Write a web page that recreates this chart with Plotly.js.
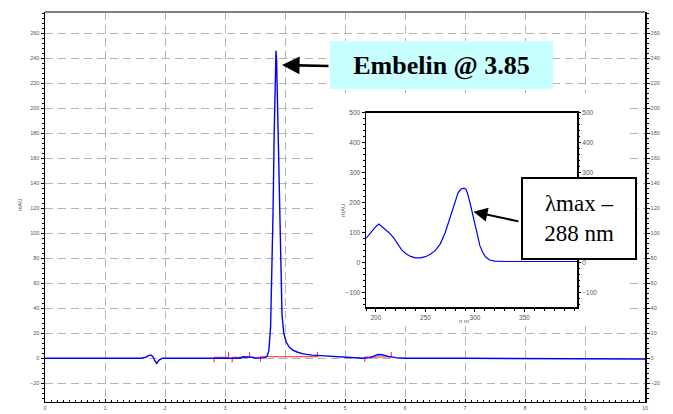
<!DOCTYPE html>
<html><head><meta charset="utf-8">
<script src="https://cdn.plot.ly/plotly-3.0.1.min.js"></script>
<style>html,body{margin:0;padding:0;background:#fff}</style>
</head><body><div id="chart" style="width:673px;height:414px"></div>
<script>
// Chromatogram (retention time in min, signal in mAU)
const retentionTime = [0, 1.0, 1.6, 1.68, 1.73, 1.77, 1.8, 1.83, 1.86, 1.9, 1.96, 2.5, 3.0, 3.25, 3.3, 3.4, 3.45, 3.5, 3.6, 3.66, 3.70, 3.73, 3.76, 3.78, 3.80, 3.82, 3.84, 3.85, 3.86, 3.87, 3.89, 3.91, 3.93, 3.95, 3.98, 4.02, 4.07, 4.13, 4.2, 4.3, 4.45, 4.6, 5.0, 5.3, 5.42, 5.5, 5.55, 5.62, 5.72, 5.85, 6.0, 7.0, 8.0, 9.0, 9.62, 9.66, 10];
const signal = [0, 0, 0, 0.8, 2.2, 2.5, 1.2, -2, -4.2, -1.5, 0, 0, 0, 0, 1.2, 1.2, 0.8, 0.2, 0, 0.3, 1.5, 6, 25, 60, 115, 180, 230, 246, 238, 215, 160, 105, 55, 35, 20, 13, 9, 6.5, 5, 3.5, 2.5, 2, 0.5, 0, 0.5, 2, 3, 2.8, 1.5, 0.5, 0, 0, 0, 0, 0, -0.6, -0.6];
// Integration events
const peakStart = [2.82, 3.12, 3.59, 5.33];
const peakEnd = [3.06, 3.41, 4.54, 5.77];
const baselineLevel = [0.8, 0.8, 1.2, 1.0];
const markLength = 4;
// UV spectrum of the peak (nm, mAU)
const wavelength = [190, 195, 200, 203, 208, 213, 218, 222, 226, 230, 235, 240, 245, 250, 255, 260, 265, 270, 275, 280, 283, 286, 289, 291, 293, 296, 299, 302, 305, 308, 311, 315, 320, 330, 360, 403];
const spectrum = [80, 100, 120, 128, 115, 100, 82, 62, 42, 30, 20, 15, 15, 19, 27, 40, 62, 100, 150, 205, 233, 245, 248, 244, 225, 185, 140, 95, 55, 32, 17, 8, 4, 3, 3, 3];
// inset right-hand tick labels left visible (others sit behind the λmax box)
const insetRightTicks = [-100, 0, 300, 400, 500];
const peakLabel = "Embelin @ 3.85";
const lambdaLabel = "λmax –<br>288 nm";
const yTitle = "mAU";
const xTitleInset = "n m";

// integration marks
const ix = [], iy = [];
peakStart.forEach((s, i) => {
  const e = peakEnd[i], b = baselineLevel[i];
  ix.push(s, s, e, e, null);
  iy.push(b - markLength, b, b, b + markLength, null);
});

const grey = "#555555";
const tickFont = {family: "Liberation Sans", size: 5.5, color: grey};
const insetFont = {family: "Liberation Sans", size: 6.5, color: grey};
const serif = "Times New Roman";

const traces = [
  {x: ix, y: iy, type: "scatter", mode: "lines", line: {color: "#ff2020", width: 1}, xaxis: "x", yaxis: "y", hoverinfo: "skip"},
  {x: retentionTime, y: signal, type: "scatter", mode: "lines", line: {color: "#0000ff", width: 1.4}, xaxis: "x", yaxis: "y"},
  {x: [], y: [], type: "scatter", xaxis: "x", yaxis: "y3"},
  {x: wavelength, y: spectrum, type: "scatter", mode: "lines", line: {color: "#0000ff", width: 1.2}, xaxis: "x2", yaxis: "y2"},
  {x: [], y: [], type: "scatter", xaxis: "x2", yaxis: "y4"}
];

const gridCommon = {showgrid: true, gridcolor: "#b4b4b4", gridwidth: 1, griddash: "8px,5px", zeroline: false};

const layout = {
  width: 673, height: 414,
  margin: {l: 45, r: 28, t: 12, b: 12},
  paper_bgcolor: "#fff", plot_bgcolor: "#fff",
  showlegend: false,
  xaxis: Object.assign({}, gridCommon, {
    range: [0, 10], dtick: 1, tick0: 0, color: grey, showline: true, linecolor: "#000", linewidth: 1.2,
    ticks: "inside", ticklen: 3, tickcolor: "#000", tickfont: tickFont,
    minor: {dtick: 0.1, ticks: "inside", ticklen: 2, tickcolor: "#000", showgrid: false}
  }),
  yaxis: Object.assign({}, gridCommon, {
    range: [-35, 277], dtick: 20, tick0: 0, color: grey, showline: true, linecolor: "#000", linewidth: 1.5,
    ticks: "outside", ticklen: 3, tickcolor: "#000", tickfont: tickFont,
    minor: {dtick: 4, ticks: "outside", ticklen: 2, tickcolor: "#000", showgrid: false}
  }),
  yaxis3: {
    overlaying: "y", side: "right", anchor: "x", range: [-35, 277], dtick: 20, tick0: 0, color: grey,
    showgrid: false, zeroline: false, showline: true, linecolor: "#000", linewidth: 1.5,
    ticks: "outside", ticklen: 3, tickcolor: "#000", tickfont: tickFont,
    minor: {dtick: 4, ticks: "outside", ticklen: 2, tickcolor: "#000", showgrid: false}
  },
  xaxis2: {
    domain: [0.535, 0.8867], anchor: "y2", range: [190, 403], tickvals: [200, 250, 300, 350], color: grey,
    showgrid: false, zeroline: false, showline: true, mirror: true, linecolor: "#000", linewidth: 1.5,
    ticks: "outside", ticklen: 3, tickcolor: "#000", tickfont: insetFont,
    minor: {dtick: 10, tick0: 200, ticks: "outside", ticklen: 2, tickcolor: "#000", showgrid: false}
  },
  yaxis2: {
    domain: [0.2428, 0.7418], anchor: "x2", range: [-150, 500], dtick: 100, tick0: 0, color: grey,
    showgrid: false, zeroline: false, showline: true, mirror: true, linecolor: "#000", linewidth: 1.5,
    ticks: "outside", ticklen: 3, tickcolor: "#000", tickfont: insetFont,
    minor: {dtick: 20, ticks: "outside", ticklen: 2, tickcolor: "#000", showgrid: false}
  },
  yaxis4: {
    overlaying: "y2", side: "right", anchor: "x2", range: [-150, 500], tickvals: insetRightTicks, color: grey,
    showgrid: false, zeroline: false, showline: false,
    ticks: "outside", ticklen: 3, tickcolor: "#000", tickfont: insetFont,
    minor: {dtick: 20, tick0: 0, ticks: "outside", ticklen: 2, tickcolor: "#000", showgrid: false}
  },
  shapes: [
    {type: "rect", xref: "x", yref: "y", x0: 4.517, x1: 9.683, y0: 25.8, y1: 212.2, fillcolor: "#fff", line: {width: 0}, layer: "between"},
    {type: "line", xref: "paper", yref: "paper", x0: 0, x1: 1, y0: 1, y1: 1, line: {color: "#808080", width: 2}, layer: "above"}
  ],
  annotations: [
    {xref: "paper", yref: "paper", x: 0.6608, y: 0.8641, text: "<b>" + peakLabel + "</b>", showarrow: false,
     font: {family: serif, size: 26, color: "#000", weight: "bold"},
     bgcolor: "#c8ffff", width: 223, height: 48, borderpad: 0, borderwidth: 0, xanchor: "center", yanchor: "middle"},
    {xref: "paper", yref: "paper", x: 0.395, y: 0.8641, text: "", showarrow: true, ax: 48, ay: 1,
     arrowhead: 2, arrowsize: 1.35, arrowwidth: 2.6, arrowcolor: "#000", standoff: 0},
    {xref: "paper", yref: "paper", x: 0.89, y: 0.4705, text: lambdaLabel, showarrow: false,
     font: {family: serif, size: 23, color: "#000"},
     bgcolor: "#fff", bordercolor: "#000", borderwidth: 2, width: 112, height: 79, borderpad: 0, xanchor: "center", yanchor: "middle"},
    {xref: "paper", yref: "paper", x: (473.5 - 45) / 600, y: (402 - 211.7) / 390, text: "", showarrow: true, ax: 46.5, ay: 10,
     arrowhead: 2, arrowsize: 1.4, arrowwidth: 2, arrowcolor: "#000", standoff: 0},
    {xref: "paper", yref: "paper", x: -0.05, y: 0.505, text: yTitle, showarrow: false, textangle: -90,
     font: {family: "Liberation Sans", size: 5.5, color: grey}},
    {xref: "paper", yref: "paper", x: 0.4967, y: 0.49, text: yTitle, showarrow: false, textangle: -90,
     font: {family: "Liberation Sans", size: 6, color: grey}},
    {xref: "paper", yref: "paper", x: 0.71, y: 0.195, text: xTitleInset, showarrow: false,
     font: {family: "Liberation Sans", size: 6, color: grey}}
  ]
};

Plotly.newPlot("chart", traces, layout, {displayModeBar: false, staticPlot: true});
</script>
</body></html>
